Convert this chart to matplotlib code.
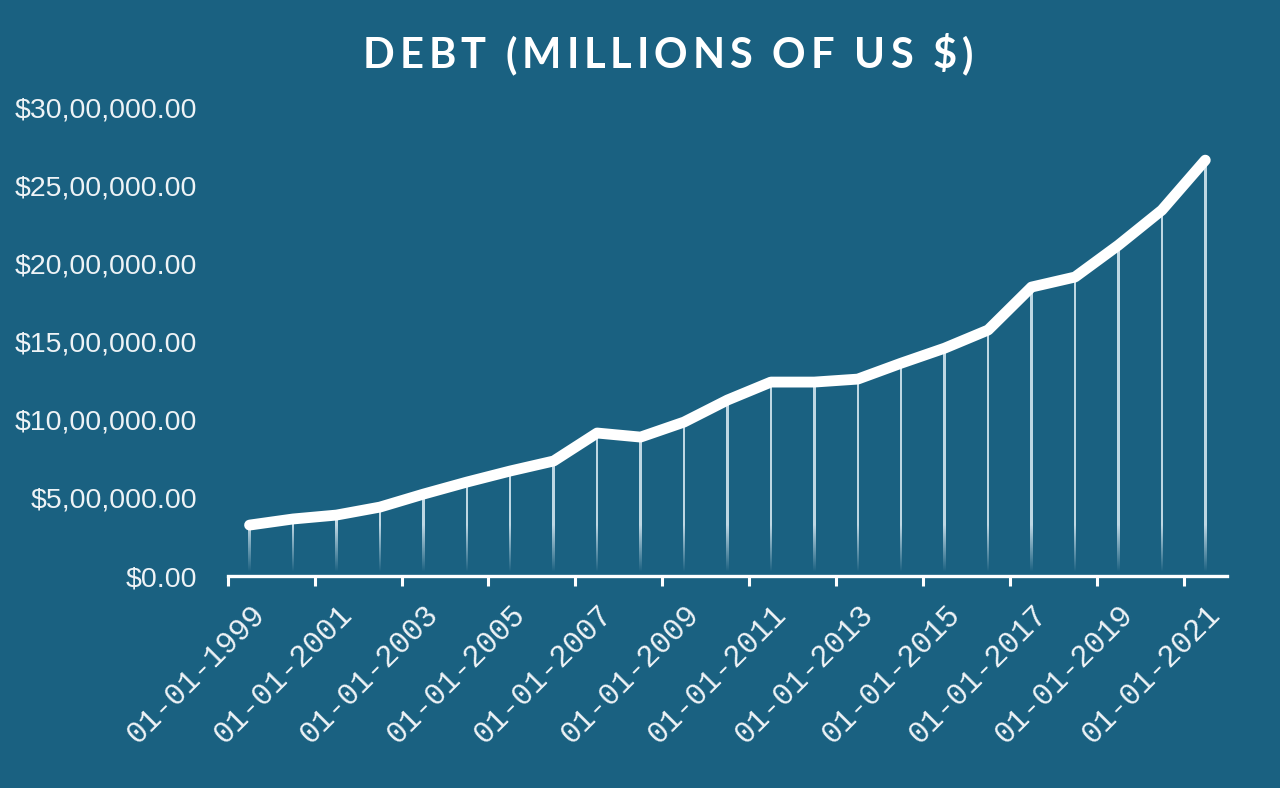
import numpy as np
import matplotlib
matplotlib.use("Agg")
import matplotlib.pyplot as plt
from matplotlib.path import Path
from matplotlib.patches import PathPatch
from matplotlib.font_manager import FontProperties, findfont
from matplotlib.ft2font import FT2Font, LoadFlags

# Data
years = list(range(1999, 2022))
debt = [326000, 365000, 390000, 441000, 524000, 601000, 672000, 736000,
        915000, 889000, 985000, 1126000, 1241000, 1241000, 1260000,
        1362000, 1458000, 1574000, 1849000, 1913000, 2117000, 2341000,
        2661000]
date_labels = [f"01-01-{y}" for y in years]
title_text = "DEBT (MILLIONS OF US $)"

bg = "#1a6181"
line_col = "white"
text_col = "#eef3f6"


def indian_fmt(v, pos=None):
    s = str(int(round(v)))
    if len(s) > 3:
        head, tail = s[:-3], s[-3:]
        parts = []
        while len(head) > 2:
            parts.insert(0, head[-2:])
            head = head[:-2]
        if head:
            parts.insert(0, head)
        s = ",".join(parts) + "," + tail
    return f"${s}.00"


fig = plt.figure(figsize=(12.8, 7.88), dpi=100)
fig.patch.set_facecolor(bg)
ax = fig.add_axes([0.178, 0.269, 0.7806, 0.595])
ax.set_facecolor(bg)

x = np.arange(len(years))
ymax = 3000000
ax.set_xlim(-0.5, len(years) - 0.5)
ax.set_ylim(0, ymax)

# drop lines: thin rectangles filled by a vertical gradient that fades out
half_w = 0.028
verts, codes = [], []
for xi, v in zip(x, debt):
    verts += [(xi - half_w, 0), (xi + half_w, 0), (xi + half_w, v),
              (xi - half_w, v), (xi - half_w, 0)]
    codes += [Path.MOVETO, Path.LINETO, Path.LINETO, Path.LINETO,
              Path.CLOSEPOLY]
clip = PathPatch(Path(verts, codes), transform=ax.transData,
                 facecolor="none", edgecolor="none")
ax.add_patch(clip)
yy = np.linspace(0, ymax, 600)
alpha = np.clip((yy - 25000) / 300000, 0, 1) * 0.88
grad = np.zeros((600, 1, 4))
grad[..., 0] = 0.84
grad[..., 1] = 0.91
grad[..., 2] = 0.95
grad[..., 3] = alpha[:, None]
im = ax.imshow(grad, extent=(-0.5, len(years) - 0.5, 0, ymax), origin="lower",
               aspect="auto", interpolation="bilinear", zorder=2)
im.set_clip_path(clip)

ax.plot(x, debt, color=line_col, lw=7.8, solid_capstyle="round",
        solid_joinstyle="round", zorder=3)

# y axis
ax.set_yticks(np.arange(0, ymax + 1, 500000))
ax.yaxis.set_major_formatter(matplotlib.ticker.FuncFormatter(indian_fmt))
ax.tick_params(axis="y", length=0, pad=22, labelsize=20.5, labelcolor=text_col)
for lab in ax.get_yticklabels():
    lab.set_family("Liberation Sans")

# x axis: tick marks between categories, labels every other year
ax.set_xticks(np.arange(-0.5, len(years) - 1, 2))
ax.set_xticklabels([])
ax.set_xticks(x[::2], minor=True)
ax.set_xticklabels(date_labels[::2], minor=True, rotation=45, ha="right",
                   va="top", rotation_mode="anchor", family="Liberation Mono",
                   fontsize=22, color=text_col)
ax.tick_params(axis="x", which="major", length=7, width=2.2, color="white",
               direction="out")
ax.tick_params(axis="x", which="minor", length=0, pad=17)

for s in ["left", "right", "top"]:
    ax.spines[s].set_visible(False)
ax.spines["bottom"].set_color("white")
ax.spines["bottom"].set_linewidth(2.4)

# letter-spaced title
tprop = FontProperties(family="Lato", weight="bold")
tsize = 30
ft = FT2Font(findfont(tprop))
ft.set_size(tsize, 100)
adv = [ft.load_char(ord(c), flags=LoadFlags.NO_HINTING).linearHoriAdvance / 65536
       for c in title_text]
target_w = 610
gap = (target_w - sum(adv)) / (len(title_text) - 1)
start = 668 - target_w / 2
px = start
for c, w in zip(title_text, adv):
    fig.text(px / 1280, 1 - 68 / 788, c, fontproperties=tprop, fontsize=tsize,
             color="white", ha="left", va="baseline")
    px += w + gap

fig.savefig("out.png", dpi=100, facecolor=bg)
